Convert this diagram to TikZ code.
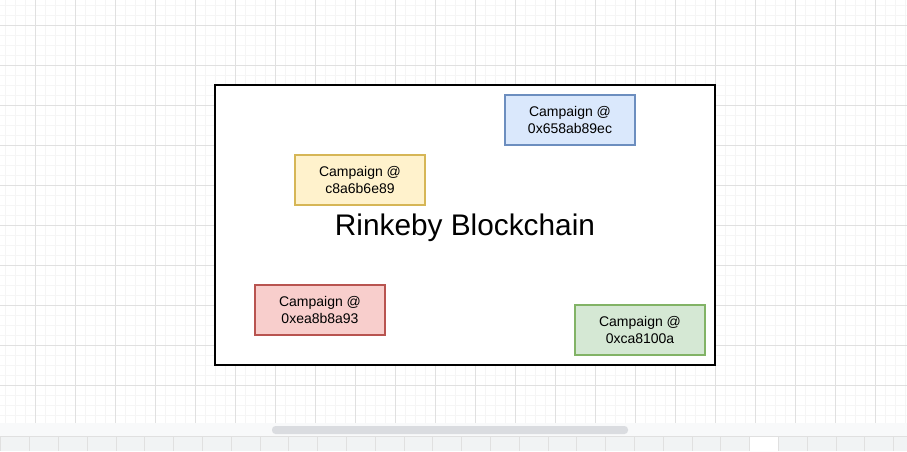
\documentclass[tikz,border=0pt]{standalone}
\usepackage{fontspec}
\setmainfont{Liberation Sans}
\definecolor{minorgrid}{HTML}{F5F5F5}
\definecolor{majorgrid}{HTML}{E0E0E0}
\definecolor{bluefill}{HTML}{DAE8FC}\definecolor{bluedraw}{HTML}{6C8EBF}
\definecolor{yellowfill}{HTML}{FFF2CC}\definecolor{yellowdraw}{HTML}{D6B656}
\definecolor{redfill}{HTML}{F8CECC}\definecolor{reddraw}{HTML}{B85450}
\definecolor{greenfill}{HTML}{D5E8D4}\definecolor{greendraw}{HTML}{82B366}
\definecolor{trackgray}{HTML}{F8F9FA}
\definecolor{thumbgray}{HTML}{DADCE0}
\definecolor{tabgray}{HTML}{F1F3F4}
\begin{document}
\begin{tikzpicture}[x=1pt,y=-1pt,
    campaign/.style={draw,line width=1.6pt,minimum width=130pt,minimum height=50pt,
        align=center,font=\fontsize{14}{17}\selectfont},
    chainbox/.style={draw,fill=white,line width=2pt,minimum width=500pt,minimum height=280pt,
        text depth=0pt,font=\fontsize{29.8}{34}\selectfont}]
    \useasboundingbox (0,0) rectangle (907,451);
    % canvas grid
    \fill[white] (0,0) rectangle (907,423);
    \foreach \x in {5,15,...,905} \draw[minorgrid,line width=1pt] (\x,0) -- (\x,423);
    \foreach \y in {5,15,...,415} \draw[minorgrid,line width=1pt] (0,\y) -- (907,\y);
    \foreach \x in {35,75,...,875} \draw[majorgrid,line width=1pt] (\x,0) -- (\x,423);
    \foreach \y in {25,65,...,385} \draw[majorgrid,line width=1pt] (0,\y) -- (907,\y);
    % scroll bar and page tabs
    \fill[trackgray] (0,423) rectangle (907,436);
    \fill[thumbgray,rounded corners=3.5pt] (272,426) rectangle (628,434);
    \fill[tabgray] (0,436) rectangle (907,451);
    \fill[white] (749.6,437) rectangle (778.4,451);
    \foreach \x in {0.8,29.6,...,906} \draw[majorgrid,line width=0.8pt] (\x,436) -- (\x,451);
    \draw[majorgrid,line width=1pt] (0,436) -- (907,436);
    % blockchain and contracts
    \node[chainbox] (chain) at (465,225) {Rinkeby Blockchain};
    \node[campaign,fill=bluefill,draw=bluedraw] (c1) at (570,120) {Campaign @\\0x658ab89ec};
    \node[campaign,fill=yellowfill,draw=yellowdraw] (c2) at (360,180) {Campaign @\\c8a6b6e89};
    \node[campaign,fill=redfill,draw=reddraw] (c3) at (320,310) {Campaign @\\0xea8b8a93};
    \node[campaign,fill=greenfill,draw=greendraw] (c4) at (640,330) {Campaign @\\0xca8100a};
\end{tikzpicture}
\end{document}
